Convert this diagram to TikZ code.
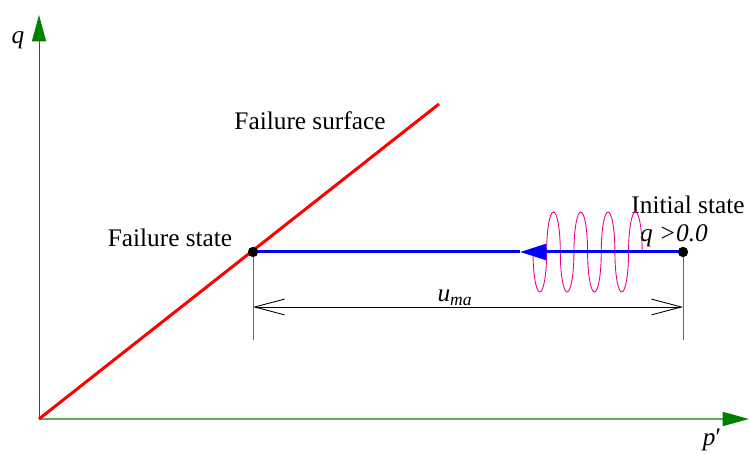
\documentclass[tikz,border=0pt]{standalone}
\usepackage{fontspec}
\setmainfont{Liberation Serif}
\usepackage{tikz}
\usetikzlibrary{arrows.meta,calc}

\begin{document}
\begin{tikzpicture}[font=\fontsize{14.4}{17}\selectfont,
    axisq/.style={green!50!black,line width=0.5pt},
    axisp/.style={draw={rgb,255:red,90;green,175;blue,90},line width=0.9pt},
    axistip/.style={-{Triangle[length=15pt,width=8pt,color=green!50!black,fill=green!50!black]}},
    failline/.style={red,line width=1.7pt},
    pathline/.style={blue,line width=1.7pt},
    dot/.style={circle,fill=black,inner sep=0pt,minimum size=0.2cm},
    dimline/.style={black,line width=0.5pt},
    dimtips/.style={{Straight Barb[length=17pt,width=9pt]}-{Straight Barb[length=17pt,width=9pt]}}]
  \useasboundingbox (-0.78,-0.72) rectangle (14.2,8.38);
  % --- axes ---
  \coordinate (O) at (0,0);
  \coordinate (qtip) at (0,8.08);
  \coordinate (ptip) at (14.2,0);
  \draw[axisq,axistip] (O) -- (qtip);
  \draw[axisp,axistip] (O) -- (ptip);
  \node (qlab) at (-0.42,7.58) {\textit{q}};
  \node (plab) at (13.46,-0.42) {\textit{p}′};
  % --- failure surface ---
  \coordinate (fsend) at (8.0,6.3);
  \draw[failline] (O) -- (fsend);
  \node (fslab) at (5.42,5.96) {Failure surface};
  % --- loading path ---
  \node[dot] (fail) at (4.28,3.34) {};
  \node[dot] (init) at (12.88,3.34) {};
  \node (faillab) at (2.62,3.62) {Failure state};
  \node (initlab) at (12.98,4.28) {Initial state};
  \node (qcond) at (12.70,3.66) {\textit{q >0.0}};
  % cyclic loading coil
  \coordinate (coil) at (9.88,3.34);
  \draw[magenta,line width=0.5pt] (coil)
    foreach \k in {1,...,4}{
      arc[start angle=180,end angle=360,x radius=0.1365,y radius=0.8]
      arc[start angle=180,end angle=0,x radius=0.1365,y radius=0.8]};
  \coordinate (tipc) at (9.62,3.34);
  \draw[pathline,-{Triangle[length=15pt,width=9pt]}] (init.center) -- (tipc);
  \draw[pathline] (tipc) -- (fail.center);
  \node[dot] at (fail) {};
  \node[dot] at (init) {};
  % --- dimension ---
  \coordinate (extL) at ($(fail)+(0,-1.76)$);
  \coordinate (extR) at ($(init)+(0,-1.76)$);
  \draw[black!60,line width=0.5pt] (fail) -- (extL);
  \draw[black!60,line width=0.5pt] (init) -- (extR);
  \coordinate (dimL) at ($(fail)+(0,-1.1)$);
  \coordinate (dimR) at ($(init)+(0,-1.1)$);
  \draw[dimline,dimtips] (dimL) -- (dimR);
  \node (ulab) at (8.32,2.42) {\textit{u\textsubscript{ma}}};
\end{tikzpicture}
\end{document}
